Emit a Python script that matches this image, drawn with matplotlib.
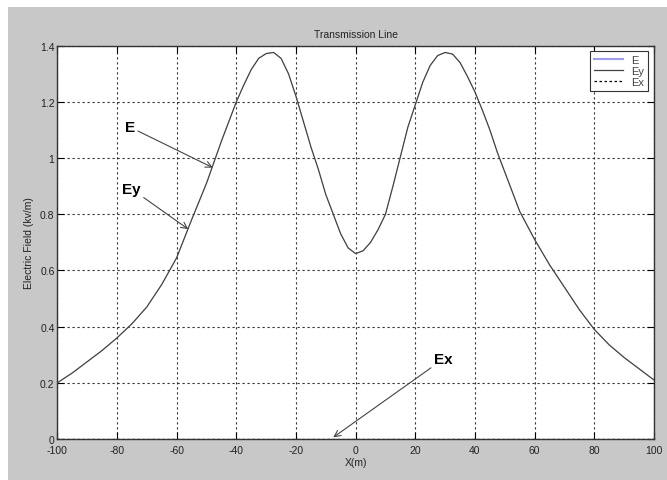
import numpy as np
import matplotlib
matplotlib.use("Agg")
import matplotlib.pyplot as plt
from matplotlib.patches import Rectangle

# Data (x in m, field in kV/m)
x_m = [-100, -95, -90, -85, -80, -75, -70, -65, -60, -55, -50, -45, -42.5,
       -40, -37.5, -35, -32.5, -30, -27.5, -25, -22.5, -20, -17.5, -15,
       -12.5, -10, -7.5, -5, -2.5, 0, 2.5, 5, 7.5, 10, 12.5, 15, 17.5, 20,
       22.5, 25, 27.5, 30, 32.5, 35, 37.5, 40, 42.5, 45, 47.5, 50, 55, 60,
       65, 70, 75, 80, 85, 90, 95, 100]
ey = [0.20, 0.235, 0.275, 0.315, 0.36, 0.41, 0.47, 0.55, 0.645, 0.78, 0.91,
      1.06, 1.13, 1.20, 1.26, 1.315, 1.355, 1.372, 1.376, 1.355, 1.30, 1.22,
      1.13, 1.04, 0.96, 0.87, 0.80, 0.73, 0.68, 0.66, 0.67, 0.70, 0.745,
      0.80, 0.90, 1.005, 1.11, 1.19, 1.27, 1.33, 1.365, 1.376, 1.37, 1.34,
      1.29, 1.235, 1.17, 1.10, 1.02, 0.95, 0.81, 0.71, 0.62, 0.54, 0.46,
      0.39, 0.335, 0.29, 0.25, 0.21]
ex = [0.0] * len(x_m)
e_total = list(np.sqrt(np.array(ey) ** 2 + np.array(ex) ** 2))

x_ticks = [-100, -80, -60, -40, -20, 0, 20, 40, 60, 80, 100]
y_ticks = [0, 0.2, 0.4, 0.6, 0.8, 1.0, 1.2, 1.4]
y_tick_labels = ["0", "0.2", "0.4", "0.6", "0.8", "1", "1.2", "1.4"]

plt.rcParams['font.family'] = ['Liberation Sans', 'DejaVu Sans']

fig = plt.figure(figsize=(6.67, 4.81), dpi=100)
fig.patch.set_facecolor('white')
# grey window background, leaving a thin white strip top and left
fig.patches.append(Rectangle((8 / 667, 0), 1, 1 - 8 / 481, transform=fig.transFigure,
                             facecolor='#c8c8c8', edgecolor='none', zorder=-10))

ax = fig.add_axes([0.0859, 0.0852, 0.8946, 0.8177])
ax.set_facecolor('white')

ax.plot(x_m, e_total, color='#9a9aff', lw=1.0, label='E', zorder=3)
# E sits under Ey, so hide it by a thin line there
ax.lines[0].set_linewidth(0.4)
ax.plot(x_m, ey, color='#444444', lw=0.9, label='Ey', zorder=4)
ax.plot(x_m, ex, color='black', lw=0.9, ls=(0, (2, 2)), label='Ex', zorder=5)

ax.set_xlim(-100, 100)
ax.set_ylim(0, 1.4)
ax.set_xticks(x_ticks)
ax.set_xticklabels([str(t) for t in x_ticks])
ax.set_yticks(y_ticks)
ax.set_yticklabels(y_tick_labels)
ax.tick_params(direction='in', length=5, width=0.8, top=True, right=True,
               labelsize=7.5, labelcolor='#222222', pad=2)
ax.tick_params(axis='x', pad=4)
ax.grid(True, color='#333333', lw=0.8, ls=(0, (2, 2.5)))
for s in ax.spines.values():
    s.set_color('#333333')
    s.set_linewidth(1.0)

ax.set_title('Transmission Line', fontsize=7.5, color='#222222', pad=6)
ax.set_xlabel('X(m)', fontsize=7.5, color='#222222', labelpad=2)
ax.set_ylabel('Electric Field (kv/m)', fontsize=7.5, color='#222222', labelpad=4)

leg = ax.legend(loc='upper right', fontsize=8, handlelength=2.6,
                borderaxespad=0.5, fancybox=False, framealpha=1,
                edgecolor='#333333', labelspacing=0.1, borderpad=0.35)
leg.get_frame().set_linewidth(0.8)
leg.get_lines()[0].set_linewidth(1.5)
for t in leg.get_texts():
    t.set_color('#444444')

arrow = dict(arrowstyle='->', color='#444444', lw=0.8, shrinkA=0, shrinkB=0)
ax.annotate('E', xy=(-47.9, 0.966), xytext=(-75.6, 1.11), fontsize=11,
            fontweight='bold', ha='center', va='center', arrowprops=arrow)
ax.annotate('Ey', xy=(-56.1, 0.747), xytext=(-75.1, 0.89), fontsize=11,
            fontweight='bold', ha='center', va='center', arrowprops=arrow)
ax.annotate('Ex', xy=(-7.5, 0.006), xytext=(29.3, 0.284), fontsize=11,
            fontweight='bold', ha='center', va='center', arrowprops=arrow)

fig.savefig('out.png', dpi=100, facecolor=fig.get_facecolor())
